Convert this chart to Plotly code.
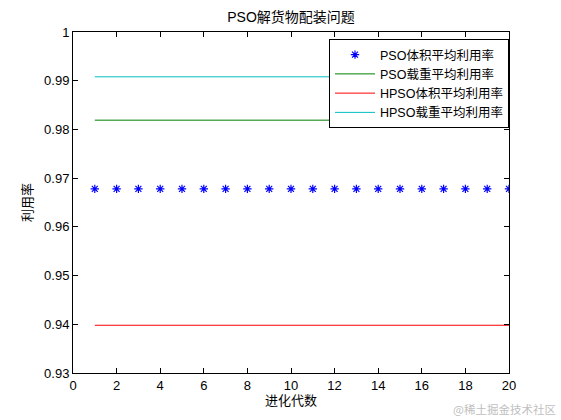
import plotly.graph_objects as go

generations = list(range(1, 21))
pso_volume = [0.9678] * 20
pso_load = [0.9819] * 20
hpso_volume = [0.9398] * 20
hpso_load = [0.9908] * 20

names = ["PSO体积平均利用率", "PSO载重平均利用率", "HPSO体积平均利用率", "HPSO载重平均利用率"]
x_ticks = list(range(0, 21, 2))
FONT = "Liberation Sans, Arial, Noto Sans CJK SC, sans-serif"

fig = go.Figure()
fig.add_trace(go.Scatter(x=generations, y=pso_volume, mode="markers", name=names[0],
                         marker=dict(symbol="asterisk-open", size=7, color="#0000ff",
                                     line=dict(color="#0000ff", width=1.2))))
fig.add_trace(go.Scatter(x=generations, y=pso_load, mode="lines", name=names[1],
                         line=dict(color="#008000", width=1)))
fig.add_trace(go.Scatter(x=generations, y=hpso_volume, mode="lines", name=names[2],
                         line=dict(color="#ff0000", width=1)))
fig.add_trace(go.Scatter(x=generations, y=hpso_load, mode="lines", name=names[3],
                         line=dict(color="#00bfbf", width=1)))

axis_common = dict(showline=True, linecolor="black", linewidth=1, mirror="ticks",
                   ticks="inside", ticklen=5, tickcolor="black", showgrid=False,
                   zeroline=False, tickfont=dict(family=FONT, size=13, color="black"))

fig.update_layout(
    width=561, height=420,
    margin=dict(l=73, r=52, t=32, b=47),
    paper_bgcolor="white", plot_bgcolor="white",
    font=dict(family=FONT, size=13, color="black"),
    title=dict(text="PSO解货物配装问题", x=(73 + 509) / 2 / 561, xanchor="center",
               y=1 - 17 / 420, yanchor="middle",
               font=dict(family=FONT, size=14, color="black")),
    xaxis=dict(range=[0, 20], tickvals=x_ticks,
               title=dict(text="进化代数", standoff=2, font=dict(family=FONT, size=13)),
               **axis_common),
    yaxis=dict(range=[0.93, 1.0], dtick=0.01, tick0=0.93,
               title=dict(text="利用率", standoff=8, font=dict(family=FONT, size=13)),
               **axis_common),
    legend=dict(x=1.0, xanchor="right", y=1 - 7 / 341, yanchor="top",
                bgcolor="white", bordercolor="black", borderwidth=1,
                font=dict(family=FONT, size=12.5), tracegroupgap=0, itemwidth=40),
    showlegend=True,
)

fig.add_annotation(text="@稀土掘金技术社区", xref="paper", yref="paper",
                   x=(558 - 73) / 436, xanchor="right", y=-(409 - 373) / 341, yanchor="middle",
                   showarrow=False,
                   font=dict(family="Noto Sans CJK SC", size=11.5, color="#c0c0c0"))

fig.write_html("out.html", config={"displayModeBar": False},
               post_script="document.body.style.margin='0';")
